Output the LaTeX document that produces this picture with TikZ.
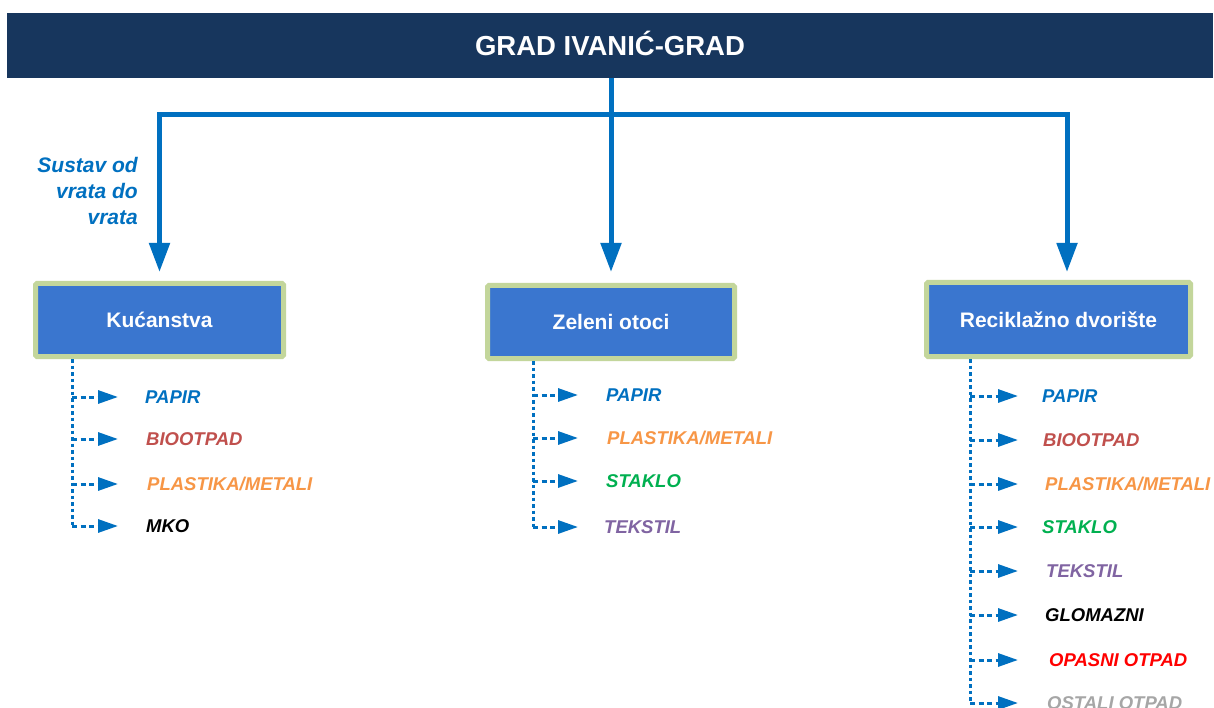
\documentclass[tikz,border=0pt]{standalone}
\usepackage{fontspec}
\setmainfont{Liberation Sans}
\usetikzlibrary{arrows.meta}
\definecolor{navy}{HTML}{17365D}
\definecolor{lineblue}{HTML}{0070C0}
\definecolor{boxblue}{HTML}{3A76CF}
\definecolor{boxgreen}{HTML}{C3D69B}
\definecolor{cbio}{HTML}{C0504D}
\definecolor{corange}{HTML}{F79646}
\definecolor{cgreen}{HTML}{00B050}
\definecolor{cpurple}{HTML}{8064A2}
\definecolor{cred}{HTML}{FF0000}
\definecolor{cgray}{HTML}{A6A6A6}
\begin{document}
\begin{tikzpicture}[x=1pt,y=-1pt,
  titlebox/.style={fill=navy, text=white, font=\bfseries\fontsize{27.5}{31}\selectfont, minimum width=1206pt, minimum height=65pt, inner sep=0pt, outer sep=0pt, text height=19.5pt, text depth=0pt},
  catbox/.style={draw=boxgreen, line width=5pt, fill=boxblue, text=white, font=\bfseries\fontsize{21}{25}\selectfont, rounded corners=1.5pt, inner sep=0pt, outer sep=2.5pt, text height=15pt, text depth=0pt},
  mainline/.style={draw=lineblue, line width=5pt, -{Triangle[length=29pt,width=20pt]}},
  trunk/.style={draw=lineblue, line width=3pt, dash pattern=on 3.5pt off 3pt},
  branch/.style={draw=lineblue, line width=3pt, dash pattern=on 5pt off 3.5pt, -{Triangle[length=20pt,width=13pt]}},
  item/.style={anchor=west, inner sep=0pt, font=\bfseries\itshape\fontsize{18.5}{22}\selectfont, text height=13.3pt, text depth=0pt},
]
\fill[white] (0,0) rectangle (1214,708);
\useasboundingbox (0,0) rectangle (1214,708);

% title
\node[titlebox] (title) at (610,45.5) {GRAD IVANIĆ-GRAD};

% category boxes
\node[catbox, minimum width=248pt, minimum height=73pt] (kuc) at (159.5,320) {Kućanstva};
\node[catbox, minimum width=247pt, minimum height=73pt] (zel) at (611,322) {Zeleni otoci};
\node[catbox, minimum width=264pt, minimum height=74pt] (rec) at (1058.5,319.5) {Reciklažno dvorište};

% main connectors
\coordinate (j) at (611,115);
\coordinate (rtip) at (1067,272);
\draw[mainline, shorten >=9pt] (j) -| (kuc.north);
\draw[mainline] (j) -| (rtip);
\draw[mainline, shorten >=11pt] (title.south -| zel.north) -- (zel.north);

% side label
\node[anchor=east, align=right, text=lineblue, font=\bfseries\itshape\fontsize{21}{26}\selectfont, inner sep=0pt] (sustav) at (138,191) {Sustav od\\vrata do\\vrata};

% left list
\coordinate (kt) at (72,0);
\node[item, text=lineblue] (k1) at (145,397) {PAPIR};
\node[item, text=cbio] (k2) at (146,439) {BIOOTPAD};
\node[item, text=corange] (k3) at (147,484) {PLASTIKA/METALI};
\node[item, text=black] (k4) at (146,526) {MKO};
\draw[trunk] (kt |- kuc.south) -- (kt |- k4.west);
\foreach \i in {1,...,4}{
  \draw[branch] (kt |- k\i.west) -- ++(46,0);
}

% center list
\coordinate (zt) at (533,0);
\node[item, text=lineblue] (z1) at (606,395) {PAPIR};
\node[item, text=corange] (z2) at (607,438) {PLASTIKA/METALI};
\node[item, text=cgreen] (z3) at (606,481) {STAKLO};
\node[item, text=cpurple] (z4) at (604,527) {TEKSTIL};
\draw[trunk] (zt |- zel.south) -- (zt |- z4.west);
\foreach \i in {1,...,4}{
  \draw[branch] (zt |- z\i.west) -- ++(45,0);
}

% right list
\coordinate (rt) at (970,0);
\node[item, text=lineblue] (r1) at (1042,396) {PAPIR};
\node[item, text=cbio] (r2) at (1043,440) {BIOOTPAD};
\node[item, text=corange] (r3) at (1045,484) {PLASTIKA/METALI};
\node[item, text=cgreen] (r4) at (1042,527) {STAKLO};
\node[item, text=cpurple] (r5) at (1046,571) {TEKSTIL};
\node[item, text=black] (r6) at (1045,615) {GLOMAZNI};
\node[item, text=cred] (r7) at (1049,660) {OPASNI OTPAD};
\node[item, text=cgray] (r8) at (1047,703) {OSTALI OTPAD};
\draw[trunk] (rt |- rec.south) -- (rt |- r8.west);
\foreach \i in {1,...,8}{
  \draw[branch] (rt |- r\i.west) -- ++(48,0);
}
\end{tikzpicture}
\end{document}
